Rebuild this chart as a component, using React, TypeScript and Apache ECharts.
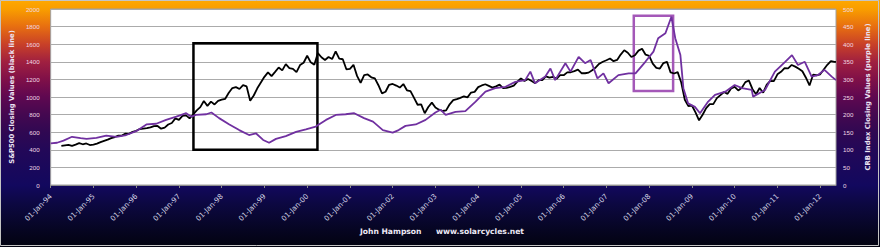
import React, { useEffect, useRef } from "react";
import * as echarts from "echarts";

// S&P500 month-end closes, from March 1994 to April 2012
const spxFirstMonthEnd = 1994 + 3 / 12;
const spxValues = [
  445, 451, 457, 444, 458, 475, 463, 472, 454, 459,
  470, 487, 501, 515, 533, 545, 562, 562, 584, 582, 605, 616,
  636, 640, 646, 654, 669, 671, 640, 652, 687, 705, 757, 741,
  786, 791, 757, 801, 848, 885, 954, 899, 947, 915, 955, 970,
  980, 1049, 1102, 1112, 1091, 1134, 1121, 957, 1017, 1099, 1164, 1229,
  1280, 1238, 1286, 1335, 1302, 1373, 1329, 1320, 1283, 1363, 1389, 1469,
  1394, 1366, 1499, 1452, 1421, 1455, 1431, 1518, 1437, 1429, 1315, 1320,
  1366, 1240, 1160, 1249, 1256, 1224, 1211, 1134, 1041, 1060, 1139, 1148,
  1130, 1107, 1147, 1076, 1067, 990, 912, 916, 815, 886, 936, 880,
  856, 841, 848, 917, 964, 975, 990, 1008, 996, 1051, 1058, 1112,
  1131, 1145, 1126, 1107, 1121, 1141, 1102, 1104, 1115, 1130, 1174, 1212,
  1181, 1204, 1181, 1157, 1192, 1191, 1234, 1220, 1229, 1207, 1249, 1248,
  1280, 1281, 1295, 1311, 1270, 1270, 1277, 1304, 1336, 1378, 1401, 1418,
  1438, 1407, 1421, 1482, 1531, 1503, 1455, 1474, 1527, 1549, 1481, 1468,
  1379, 1331, 1323, 1386, 1400, 1280, 1267, 1283, 1165, 969, 896, 903,
  826, 735, 798, 873, 919, 919, 987, 1021, 1057, 1036, 1096, 1115,
  1074, 1104, 1169, 1187, 1089, 1031, 1102, 1049, 1141, 1183, 1181, 1258,
  1286, 1327, 1326, 1364, 1345, 1321, 1292, 1219, 1131, 1253, 1247, 1258,
  1312, 1366, 1408, 1398,
];

// CRB index readings (decimal year, value)
const crbYears = [
  1994.0, 1994.15, 1994.3, 1994.5, 1994.7, 1994.84, 1995.07, 1995.3, 1995.54, 1995.77,
  1996.0, 1996.24, 1996.47, 1996.7, 1996.94, 1997.17, 1997.29, 1997.4, 1997.64, 1997.76,
  1997.94, 1998.18, 1998.41, 1998.64, 1998.8, 1998.97, 1999.11, 1999.27, 1999.5, 1999.74,
  1999.97, 2000.2, 2000.44, 2000.67, 2000.9, 2001.1, 2001.33, 2001.54, 2001.77, 2002.0,
  2002.14, 2002.3, 2002.54, 2002.77, 2003.0, 2003.12, 2003.24, 2003.47, 2003.7, 2003.94,
  2004.17, 2004.4, 2004.64, 2004.87, 2005.1, 2005.22, 2005.33, 2005.57, 2005.69, 2005.8,
  2006.04, 2006.16, 2006.35, 2006.5, 2006.63, 2006.79, 2006.93, 2007.05, 2007.28, 2007.52,
  2007.68, 2007.91, 2008.1, 2008.21, 2008.38, 2008.52, 2008.61, 2008.73, 2008.8, 2008.91,
  2009.07, 2009.19, 2009.38, 2009.54, 2009.78, 2010.0, 2010.17, 2010.4, 2010.43, 2010.71,
  2010.94, 2011.18, 2011.34, 2011.48, 2011.64, 2011.8, 2011.94, 2012.1, 2012.27, 2012.37,
];
const crbValues = [
  118, 120, 126, 137, 133, 131, 134, 140, 137, 142,
  153, 172, 174, 185, 194, 204, 194, 199, 201, 206,
  190, 172, 156, 142, 147, 128, 120, 131, 139, 151,
  158, 166, 185, 199, 201, 204, 190, 180, 156, 149,
  156, 168, 172, 185, 206, 214, 199, 208, 210, 237,
  265, 275, 279, 293, 298, 322, 289, 308, 331, 298,
  346, 322, 364, 346, 355, 303, 317, 289, 312, 317,
  317, 350, 379, 417, 431, 478, 417, 369, 275, 232,
  222, 204, 237, 256, 265, 284, 275, 270, 251, 270,
  322, 350, 369, 341, 350, 308, 312, 327, 308, 298,
];

const axisStartYear = 1994;
const axisEndYear = 2012.37;
const spxLastValue = 1400;

// highlight boxes: [fromYear, fromValue, toYear, toValue]
const spxBox = [1997.34, 400, 2000.24, 1610];
const crbBox = [2007.64, 267, 2008.56, 481];

export default function App() {
  const ref = useRef<HTMLDivElement>(null);
  useEffect(() => {
    if (!ref.current) return;
    const chart = echarts.init(ref.current, null, { renderer: "svg" });
    const spxData = spxValues.map((v, i) => [spxFirstMonthEnd + i / 12, v]);
    spxData.push([axisEndYear, spxLastValue]);
    const crbData = crbYears.map((y, i) => [y, crbValues[i]]);
    const labelFont = "Liberation Sans";
    chart.setOption({
      animation: false,
      backgroundColor: {
        type: "linear",
        x: 0, y: 0, x2: 0, y2: 1,
        colorStops: [
          { offset: 0, color: "#FFA800" },
          { offset: 0.04, color: "#F89C00" },
          { offset: 0.105, color: "#E87010" },
          { offset: 0.18, color: "#C84028" },
          { offset: 0.25, color: "#A02040" },
          { offset: 0.32, color: "#801048" },
          { offset: 0.39, color: "#600850" },
          { offset: 0.465, color: "#440850" },
          { offset: 0.535, color: "#300852" },
          { offset: 0.61, color: "#220858" },
          { offset: 0.75, color: "#12085E" },
          { offset: 0.83, color: "#0C0840" },
          { offset: 0.93, color: "#060522" },
          { offset: 1, color: "#030310" },
        ],
      },
      grid: {
        left: 49, right: 44, top: 9, bottom: 62,
        show: true, backgroundColor: "#FFFFFF", borderColor: "#A0A0A0", borderWidth: 1,
      },
      xAxis: {
        type: "value",
        min: axisStartYear,
        max: axisEndYear,
        interval: 1,
        splitLine: { show: false },
        axisLine: { show: true, lineStyle: { color: "#8C8C8C", width: 1 } },
        axisTick: { show: true, length: 3, lineStyle: { color: "#8C8C8C" } },
        axisLabel: {
          rotate: 45,
          margin: 10,
          color: "#D4D4E4",
          fontFamily: "DejaVu Sans",
          fontSize: 7.2,
          showMaxLabel: false,
          formatter: (v: number) =>
            Math.abs(v - Math.round(v)) < 1e-6 ? "01-Jan-" + String(Math.round(v)).slice(2) : "",
        },
      },
      yAxis: [
        {
          type: "value",
          min: 0, max: 2000, interval: 200,
          name: "S&P500 Closing Values (black line)",
          nameLocation: "middle",
          nameRotate: 90,
          nameGap: 30,
          nameTextStyle: { color: "#ECE4F4", fontFamily: "DejaVu Sans", fontWeight: "bold", fontSize: 6.8 },
          axisLine: { show: false },
          axisTick: { show: false },
          splitLine: { show: true, lineStyle: { color: "#ABABAB", width: 1 } },
          axisLabel: {
            color: "#F0D8E4", fontFamily: labelFont, fontSize: 6.2, margin: 11,
            formatter: (v: number) => String(v),
          },
        },
        {
          type: "value",
          min: 0, max: 500, interval: 50,
          name: "CRB Index Closing Values (purple line)",
          nameLocation: "middle",
          nameRotate: 90,
          nameGap: 24,
          nameTextStyle: { color: "#ECE4F4", fontFamily: "DejaVu Sans", fontWeight: "bold", fontSize: 6.8 },
          axisLine: { show: false },
          axisTick: { show: false },
          splitLine: { show: false },
          axisLabel: {
            color: "#F0D8E4", fontFamily: labelFont, fontSize: 6.2, margin: 7,
            formatter: (v: number) => String(v),
          },
        },
      ],
      series: [
        {
          name: "S&P500",
          type: "line",
          yAxisIndex: 0,
          data: spxData,
          showSymbol: false,
          symbol: "none",
          lineStyle: { color: "#000000", width: 1.8 },
          z: 2,
          markArea: {
            silent: true,
            itemStyle: { color: "rgba(0,0,0,0)", borderColor: "#000000", borderWidth: 2.5 },
            data: [[{ coord: [spxBox[0], spxBox[1]] }, { coord: [spxBox[2], spxBox[3]] }]],
          },
        },
        {
          name: "CRB",
          type: "line",
          yAxisIndex: 1,
          data: crbData,
          showSymbol: false,
          symbol: "none",
          lineStyle: { color: "#7030A0", width: 1.8 },
          z: 3,
          markArea: {
            silent: true,
            itemStyle: { color: "rgba(0,0,0,0)", borderColor: "#A458B8", borderWidth: 2.5 },
            data: [[{ coord: [crbBox[0], crbBox[1]] }, { coord: [crbBox[2], crbBox[3]] }]],
          },
        },
      ],
      graphic: [
        {
          type: "text",
          left: 360,
          top: 227,
          style: { text: "John Hampson", fill: "#ECE8F4", font: "bold 7.6px 'DejaVu Sans'" },
        },
        {
          type: "text",
          left: 436,
          top: 227,
          style: { text: "www.solarcycles.net", fill: "#ECE8F4", font: "bold 7.6px 'DejaVu Sans'" },
        },
        {
          type: "rect",
          shape: { x: 0.5, y: 0.5, width: 878, height: 245 },
          style: { fill: "none", stroke: "#C4C4C4", lineWidth: 1 },
          silent: true,
        },
      ],
    });
    return () => chart.dispose();
  }, []);
  return (
    <div
      ref={ref}
      style={{ position: "fixed", left: 0, top: 0, width: 880, height: 247 }}
    />
  );
}
